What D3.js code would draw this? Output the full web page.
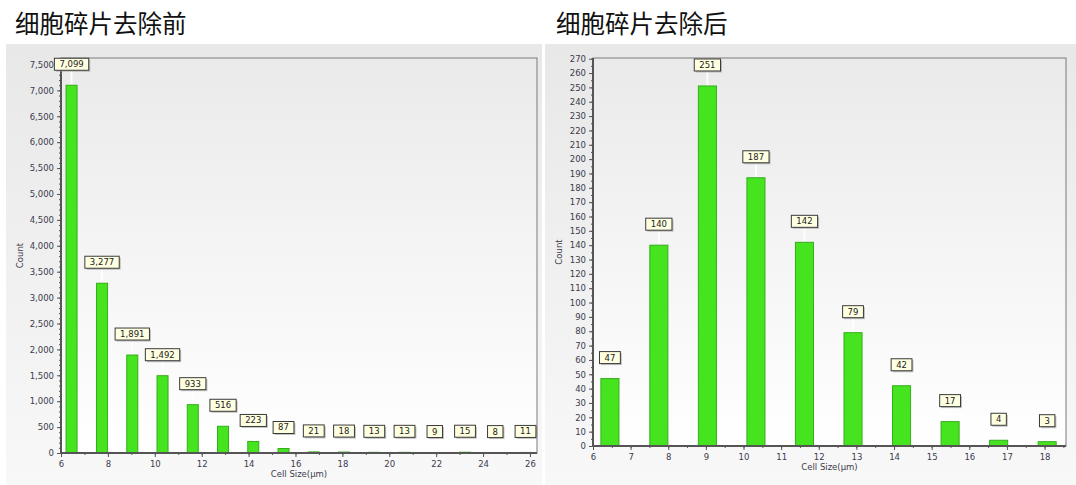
<!DOCTYPE html>
<html>
<head>
<meta charset="utf-8">
<script src="https://cdn.jsdelivr.net/npm/d3@7/dist/d3.min.js"></script>
<style>
  html, body { margin: 0; padding: 0; background: #ffffff; }
  svg { display: block; }
</style>
</head>
<body>
<svg id="chart" width="1076" height="485"></svg>
<script>
// ---------- DATA ----------
const titleBefore = "细胞碎片去除前";
const titleAfter = "细胞碎片去除后";
const xTitle = "Cell Size(µm)";
const yTitle = "Count";

const binCenters = [6.45, 7.75, 9.04, 10.33, 11.62, 12.91, 14.2, 15.49, 16.78, 18.07, 19.36, 20.65, 21.94, 23.23, 24.52, 25.81];
const beforeCounts = [7099, 3277, 1891, 1492, 933, 516, 223, 87, 21, 18, 13, 13, 9, 15, 8, 11];
const afterCounts = [47, 140, 251, 187, 142, 79, 42, 17, 4, 3];

const beforeYTicks = [0, 500, 1000, 1500, 2000, 2500, 3000, 3500, 4000, 4500, 5000, 5500, 6000, 6500, 7000, 7500];
const beforeXTicks = [6, 8, 10, 12, 14, 16, 18, 20, 22, 24, 26];
const afterYTicks = d3.range(0, 271, 10);
const afterXTicks = [6, 7, 8, 9, 10, 11, 12, 13, 14, 15, 16, 17, 18];

// ---------- DRAW ----------
const svg = d3.select("#chart");
const defs = svg.append("defs");

const gPanel = defs.append("linearGradient").attr("id", "panelGrad")
  .attr("x1", 0).attr("y1", 0).attr("x2", 0).attr("y2", 1);
gPanel.append("stop").attr("offset", "0%").attr("stop-color", "#e8e8e8");
gPanel.append("stop").attr("offset", "100%").attr("stop-color", "#f8f8f8");

const gPlot = defs.append("linearGradient").attr("id", "plotGrad")
  .attr("x1", 0).attr("y1", 0).attr("x2", 0).attr("y2", 1);
gPlot.append("stop").attr("offset", "0%").attr("stop-color", "#eaeaea");
gPlot.append("stop").attr("offset", "100%").attr("stop-color", "#ffffff");

const axisFont = "'DejaVu Sans', Verdana, sans-serif";
const fmt = d3.format(",");

function drawChart(cfg) {
  const g = svg.append("g");
  // panel background
  g.append("rect")
    .attr("x", cfg.panel[0]).attr("y", cfg.panel[1])
    .attr("width", cfg.panel[2]).attr("height", cfg.panel[3])
    .attr("fill", "url(#panelGrad)");

  // title
  svg.append("text")
    .attr("x", cfg.titleX).attr("y", 33)
    .attr("font-family", "'Noto Sans CJK SC', sans-serif")
    .attr("font-size", 24.5)
    .attr("fill", "#111")
    .text(cfg.title);

  const x = d3.scaleLinear().domain(cfg.xDomain).range([cfg.left, cfg.right]);
  const y = d3.scaleLinear().domain(cfg.yDomain).range([cfg.bottom, cfg.top]);

  // plot area
  g.append("rect")
    .attr("x", cfg.left).attr("y", cfg.top)
    .attr("width", cfg.right - cfg.left).attr("height", cfg.bottom - cfg.top)
    .attr("fill", "url(#plotGrad)")
    .attr("stroke", "#7a7a7a").attr("stroke-width", 1);

  // bars
  const bw = x(cfg.xDomain[0] + cfg.barWidth) - x(cfg.xDomain[0]);
  const data = cfg.values.map((v, i) => ({ c: binCenters[i], v }));

  // faint guide lines from labels
  g.selectAll(".guide").data(data).enter().append("line")
    .attr("x1", d => x(d.c)).attr("x2", d => x(d.c))
    .attr("y1", d => y(d.v) - 15).attr("y2", d => y(d.v) - 1)
    .attr("stroke", "#ffffff").attr("stroke-width", 2).attr("opacity", 0.9);

  g.selectAll(".bar").data(data).enter().append("rect")
    .attr("x", d => x(d.c) - bw / 2)
    .attr("y", d => y(d.v))
    .attr("width", bw)
    .attr("height", d => Math.max(0, y(0) - y(d.v)))
    .attr("fill", "#45e41f")
    .attr("stroke", "#35ad1c").attr("stroke-width", 1);

  // axes
  const yAxis = d3.axisLeft(y).tickValues(cfg.yTicks).tickSize(4).tickPadding(3)
    .tickFormat(d => fmt(d));
  const yMinor = d3.axisLeft(y).tickValues(cfg.yMinor).tickSize(2).tickFormat("");
  const xAxis = d3.axisBottom(x).tickValues(cfg.xTicks).tickSize(4).tickPadding(4)
    .tickFormat(d => d);
  const xMinor = d3.axisBottom(x).tickValues(cfg.xMinor).tickSize(2).tickFormat("");

  function style(sel) {
    sel.select(".domain").remove();
    sel.selectAll("line").attr("stroke", "#555");
    sel.selectAll("text").attr("font-family", axisFont).attr("font-size", 8.5).attr("fill", "#3b3b4b");
  }
  g.append("g").attr("transform", `translate(${cfg.left},0)`).call(yMinor).call(style);
  g.append("g").attr("transform", `translate(${cfg.left},0)`).call(yAxis).call(style);
  g.append("g").attr("transform", `translate(0,${cfg.bottom})`).call(xMinor).call(style);
  g.append("g").attr("transform", `translate(0,${cfg.bottom})`).call(xAxis).call(style);

  // thick axis lines
  g.append("line").attr("x1", cfg.left).attr("x2", cfg.left)
    .attr("y1", cfg.top).attr("y2", cfg.bottom + 1)
    .attr("stroke", "#555").attr("stroke-width", 2);
  g.append("line").attr("x1", cfg.left - 1).attr("x2", cfg.right)
    .attr("y1", cfg.bottom).attr("y2", cfg.bottom)
    .attr("stroke", "#555").attr("stroke-width", 2);

  // axis titles
  g.append("text")
    .attr("transform", `translate(${cfg.yTitleX},${(cfg.top + cfg.bottom) / 2}) rotate(-90)`)
    .attr("text-anchor", "middle")
    .attr("font-family", axisFont).attr("font-size", 8.5).attr("fill", "#3b3b4b")
    .text(yTitle);
  g.append("text")
    .attr("x", (cfg.left + cfg.right) / 2).attr("y", cfg.xTitleY)
    .attr("text-anchor", "middle")
    .attr("font-family", axisFont).attr("font-size", 8.5).attr("fill", "#3b3b4b")
    .text(xTitle);

  // value labels
  const lbl = g.selectAll(".lbl").data(data).enter().append("g")
    .attr("transform", d => `translate(${x(d.c)},${y(d.v) - 21})`);
  lbl.each(function (d) {
    const s = d3.select(this);
    const t = s.append("text")
      .attr("text-anchor", "middle").attr("dy", "0.35em")
      .attr("font-family", axisFont).attr("font-size", 8.5).attr("fill", "#222")
      .text(fmt(d.v));
    const w = t.node().getComputedTextLength() + 10;
    s.insert("rect", "text")
      .attr("x", -w / 2 + 1.5).attr("y", -6 + 1.5).attr("width", w).attr("height", 12)
      .attr("fill", "#9a9a9a").attr("opacity", 0.6);
    s.insert("rect", "text")
      .attr("x", -w / 2).attr("y", -6).attr("width", w).attr("height", 12)
      .attr("fill", "#ffffe1").attr("stroke", "#3a3a3a").attr("stroke-width", 1);
  });
}

drawChart({
  panel: [6, 44, 536, 441],
  title: titleBefore, titleX: 15,
  left: 61, right: 537, top: 58, bottom: 453,
  xDomain: [6, 26.3], yDomain: [0, 7625],
  yTicks: beforeYTicks, yMinor: d3.range(0, 7601, 100),
  xTicks: beforeXTicks, xMinor: d3.range(6, 26.1, 1),
  values: beforeCounts, barWidth: 0.47,
  yTitleX: 23, xTitleY: 477
});

drawChart({
  panel: [545, 44, 531, 441],
  title: titleAfter, titleX: 556,
  left: 593, right: 1066, top: 58, bottom: 446,
  xDomain: [6, 18.57], yDomain: [0, 270.5],
  yTicks: afterYTicks, yMinor: d3.range(0, 271, 5),
  xTicks: afterXTicks, xMinor: d3.range(6, 18.6, 0.5),
  values: afterCounts, barWidth: 0.48,
  yTitleX: 562, xTitleY: 470
});
</script>
</body>
</html>
